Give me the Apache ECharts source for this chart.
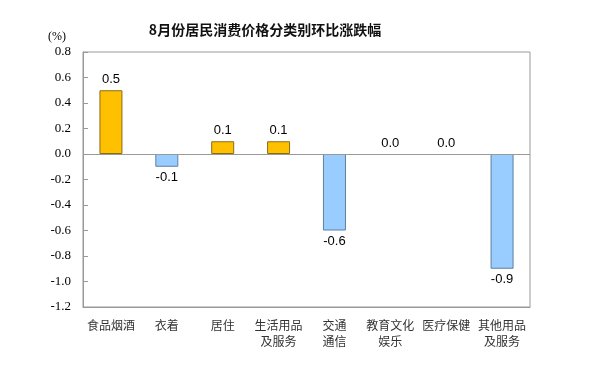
<!DOCTYPE html>
<html>
<head>
<meta charset="utf-8">
<script src="https://cdn.jsdelivr.net/npm/echarts@6/dist/echarts.min.js"></script>
<style>
  html, body { margin: 0; padding: 0; background: #fff; }
  #chart { width: 594px; height: 376px; }
</style>
</head>
<body>
<div id="chart"></div>
<script>
const categories = ['食品烟酒', '衣着', '居住', '生活用品\n及服务', '交通\n通信', '教育文化\n娱乐', '医疗保健', '其他用品\n及服务']
const values = [0.5, -0.1, 0.1, 0.1, -0.6, 0.0, 0.0, -0.9]
const yMin = -1.2
const yMax = 0.8
const yStep = 0.2

const serif = 'Liberation Serif'

const chart = echarts.init(document.getElementById('chart'))

const barData = values.map((v) => ({
    value: v,
    itemStyle: v > 0
        ? { color: '#FFC000', borderColor: '#8a6d1a', borderWidth: 1 }
        : v < 0
            ? { color: '#99CCFF', borderColor: '#5f7f9f', borderWidth: 1 }
            : { color: 'transparent', borderWidth: 0 },
    label: { position: v < 0 ? 'bottom' : 'top' },
}))

chart.setOption({
    animation: false,
    backgroundColor: '#fff',
    title: {
        text: '8月份居民消费价格分类别环比涨跌幅',
        left: 260,
        textAlign: 'center',
        top: 18,
        textStyle: {
            fontFamily: 'Noto Sans CJK SC',
            fontSize: 14,
            fontWeight: 'bold',
            color: '#111',
        },
    },
    graphic: [
        {
            type: 'text',
            left: 48,
            top: 31,
            style: { text: '(%)', fontFamily: serif, fontSize: 12, fill: '#000' },
        },
    ],
    grid: {
        left: 83,
        right: 64,
        top: 52,
        bottom: 69,
        show: true,
        borderColor: '#999',
        borderWidth: 1,
    },
    xAxis: {
        type: 'category',
        data: categories,
        axisLine: { onZero: false, lineStyle: { color: '#999' } },
        axisTick: { show: false },
        axisLabel: {
            interval: 0,
            margin: 10,
            fontFamily: 'Noto Sans CJK SC',
            fontSize: 12,
            lineHeight: 16,
            color: '#333',
        },
    },
    yAxis: {
        type: 'value',
        min: yMin,
        max: yMax,
        interval: yStep,
        axisLine: { show: true, lineStyle: { color: '#999' } },
        axisTick: { show: true, inside: true, length: 5, lineStyle: { color: '#999' } },
        splitLine: { show: false },
        axisLabel: {
            margin: 12,
            fontFamily: serif,
            fontSize: 13,
            color: '#000',
            formatter: (v) => v.toFixed(1),
        },
    },
    series: [
        {
            type: 'bar',
            barWidth: 23,
            data: barData,
            label: {
                show: true,
                distance: 4,
                fontFamily: 'Liberation Sans',
                fontSize: 13,
                color: '#000',
                formatter: (p) => p.value.toFixed(1),
            },
            markLine: {
                silent: true,
                symbol: 'none',
                label: { show: false },
                lineStyle: { color: '#999', type: 'solid', width: 1 },
                data: [{ yAxis: 0 }],
            },
        },
    ],
})
</script>
</body>
</html>
